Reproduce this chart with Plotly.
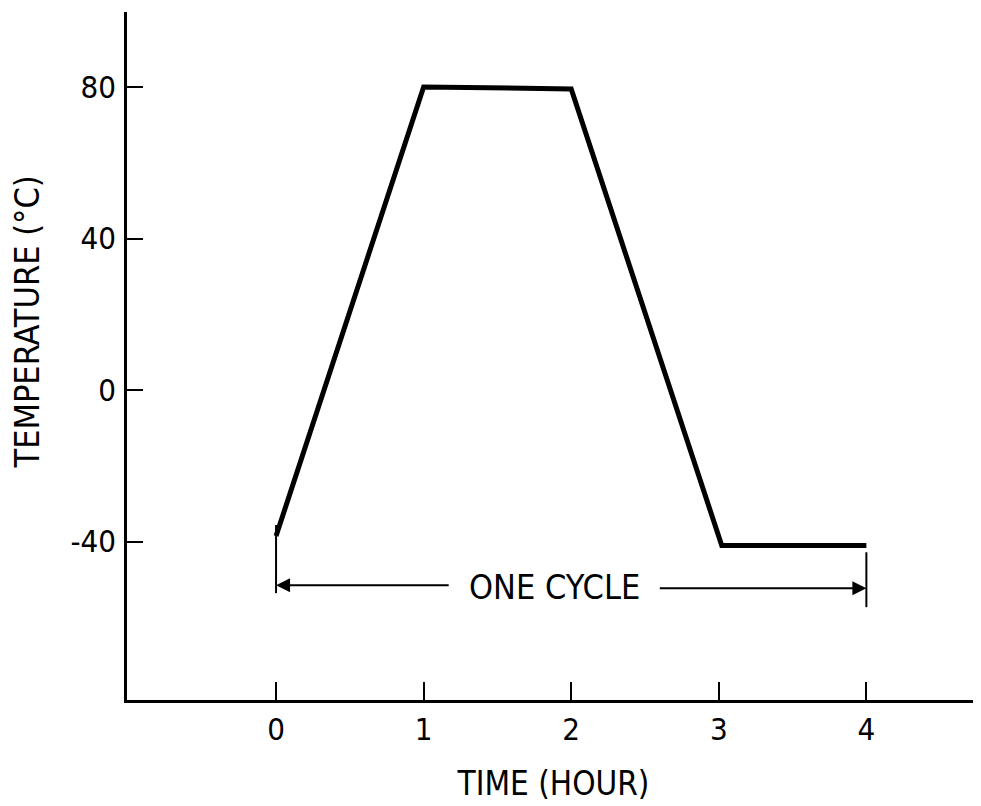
import plotly.graph_objects as go

# Data
time_hours = [0, 1, 2, 3.02, 4]
temperature_c = [-38.5, 80, 79.5, -41, -41]
x_ticks = [0, 1, 2, 3, 4]
y_ticks = [-40, 0, 40, 80]
x_title = "TIME (HOUR)"
y_title = "TEMPERATURE (°C)"
cycle_label = "ONE CYCLE"

FONT = "DejaVu Sans Condensed, DejaVu Sans"
cycle_start = time_hours[0]
cycle_end = time_hours[-1]
dim_y = -52

fig = go.Figure()
fig.add_trace(go.Scatter(x=time_hours, y=temperature_c, mode="lines",
                         line=dict(color="black", width=5), showlegend=False,
                         hoverinfo="skip"))

# dimension extension lines
fig.add_shape(type="line", x0=cycle_start, x1=cycle_start, y0=-35.6, y1=-53.6,
              line=dict(color="black", width=2))
fig.add_shape(type="line", x0=cycle_end, x1=cycle_end, y0=-42.8, y1=-57.3,
              line=dict(color="black", width=2))

# arrows
fig.add_annotation(x=cycle_start, y=dim_y + 0.5, ax=1.18, ay=dim_y + 0.5,
                   xref="x", yref="y", axref="x", ayref="y", text="",
                   showarrow=True, arrowhead=2, arrowsize=1.4, arrowwidth=2,
                   arrowcolor="black")
fig.add_annotation(x=cycle_end, y=dim_y - 0.3, ax=2.59, ay=dim_y - 0.3,
                   xref="x", yref="y", axref="x", ayref="y", text="",
                   showarrow=True, arrowhead=2, arrowsize=1.4, arrowwidth=2,
                   arrowcolor="black")
fig.add_annotation(x=(cycle_start + cycle_end) / 2 - 0.11, y=dim_y, xref="x", yref="y",
                   text=cycle_label, showarrow=False,
                   font=dict(family=FONT, size=34, color="black"))

# y-axis title (placed as rotated text, as in the original, slightly above centre)
fig.add_annotation(x=-0.117, y=0.549, xref="paper", yref="paper", text=y_title,
                   textangle=-90, showarrow=False, xanchor="center", yanchor="middle",
                   font=dict(family=FONT, size=34, color="black"))

fig.update_xaxes(range=[-1.01, 4.77], tickvals=x_ticks, ticktext=[str(v) for v in x_ticks],
                 showline=True, linecolor="black", linewidth=2.5, mirror=False,
                 ticks="inside", ticklen=18, tickwidth=2, tickcolor="black",
                 showgrid=False, zeroline=False, automargin=False,
                 tickfont=dict(family=FONT, size=31, color="black"),
                 title=dict(text=x_title, font=dict(family=FONT, size=33, color="black"),
                            standoff=26))
fig.update_yaxes(range=[-81.8, 99.8], tickvals=y_ticks, ticktext=[str(v) for v in y_ticks],
                 showline=True, linecolor="black", linewidth=2.5, mirror=False,
                 ticks="inside", ticklen=16, tickwidth=2, tickcolor="black",
                 showgrid=False, zeroline=False, ticklabelstandoff=2, automargin=False,
                 tickfont=dict(family=FONT, size=31, color="black"))

fig.update_layout(width=973, height=798, paper_bgcolor="white", plot_bgcolor="white",
                  margin=dict(l=119, r=1, t=4, b=106), showlegend=False)

fig.write_html("out.html")
